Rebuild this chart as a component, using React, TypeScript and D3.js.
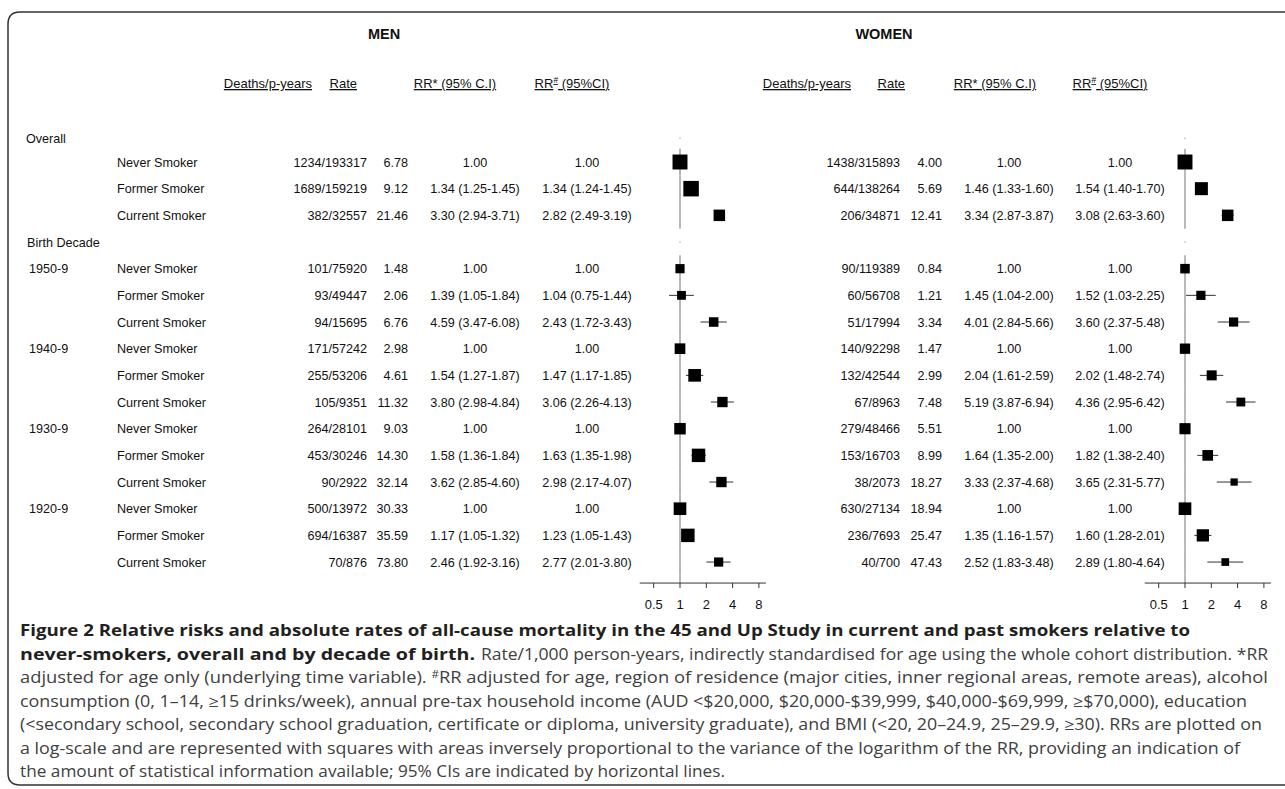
import React from 'react';
import * as d3 from 'd3';

// ---------------- DATA ----------------
const decades = ['1950-9', '1940-9', '1930-9', '1920-9'];
const statuses = ['Never Smoker', 'Former Smoker', 'Current Smoker'];
const tickValues = [0.5, 1, 2, 4, 8];

// Men (rows: Overall N/F/C, then 1950-9 N/F/C, 1940-9, 1930-9, 1920-9)
const menDeaths = [1234, 1689, 382, 101, 93, 94, 171, 255, 105, 264, 453, 90, 500, 694, 70];
const menPYears = [193317, 159219, 32557, 75920, 49447, 15695, 57242, 53206, 9351, 28101, 30246, 2922, 13972, 16387, 876];
const menRate = [6.78, 9.12, 21.46, 1.48, 2.06, 6.76, 2.98, 4.61, 11.32, 9.03, 14.3, 32.14, 30.33, 35.59, 73.8];
const menRRa = [1, 1.34, 3.3, 1, 1.39, 4.59, 1, 1.54, 3.8, 1, 1.58, 3.62, 1, 1.17, 2.46];
const menRRaLo = [null, 1.25, 2.94, null, 1.05, 3.47, null, 1.27, 2.98, null, 1.36, 2.85, null, 1.05, 1.92];
const menRRaHi = [null, 1.45, 3.71, null, 1.84, 6.08, null, 1.87, 4.84, null, 1.84, 4.6, null, 1.32, 3.16];
const menRRb = [1, 1.34, 2.82, 1, 1.04, 2.43, 1, 1.47, 3.06, 1, 1.63, 2.98, 1, 1.23, 2.77];
const menRRbLo = [null, 1.24, 2.49, null, 0.75, 1.72, null, 1.17, 2.26, null, 1.35, 2.17, null, 1.05, 2.01];
const menRRbHi = [null, 1.45, 3.19, null, 1.44, 3.43, null, 1.85, 4.13, null, 1.98, 4.07, null, 1.43, 3.8];
// relative statistical information (square area)
const menInfo = [169, 182, 100, 64, 59, 69, 86, 121, 81, 100, 137, 81, 121, 137, 64];

// Women
const womenDeaths = [1438, 644, 206, 90, 60, 51, 140, 132, 67, 279, 153, 38, 630, 236, 40];
const womenPYears = [315893, 138264, 34871, 119389, 56708, 17994, 92298, 42544, 8963, 48466, 16703, 2073, 27134, 7693, 700];
const womenRate = [4.0, 5.69, 12.41, 0.84, 1.21, 3.34, 1.47, 2.99, 7.48, 5.51, 8.99, 18.27, 18.94, 25.47, 47.43];
const womenRRa = [1, 1.46, 3.34, 1, 1.45, 4.01, 1, 2.04, 5.19, 1, 1.64, 3.33, 1, 1.35, 2.52];
const womenRRaLo = [null, 1.33, 2.87, null, 1.04, 2.84, null, 1.61, 3.87, null, 1.35, 2.37, null, 1.16, 1.83];
const womenRRaHi = [null, 1.6, 3.87, null, 2.0, 5.66, null, 2.59, 6.94, null, 2.0, 4.68, null, 1.57, 3.48];
const womenRRb = [1, 1.54, 3.08, 1, 1.52, 3.6, 1, 2.02, 4.36, 1, 1.82, 3.65, 1, 1.6, 2.89];
const womenRRbLo = [null, 1.4, 2.63, null, 1.03, 2.37, null, 1.48, 2.95, null, 1.38, 2.31, null, 1.28, 1.8];
const womenRRbHi = [null, 1.7, 3.6, null, 2.25, 5.48, null, 2.74, 6.42, null, 2.4, 5.77, null, 2.01, 4.64];
const womenInfo = [169, 128, 100, 69, 64, 64, 81, 76, 59, 94, 86, 40, 121, 114, 45];

const captionBold1 = 'Figure 2 Relative risks and absolute rates of all-cause mortality in the 45 and Up Study in current and past smokers relative to';
const captionBold2 = 'never-smokers, overall and by decade of birth.';
const captionRest2 = 'Rate/1,000 person-years, indirectly standardised for age using the whole cohort distribution. *RR';
const captionLines = [
  'adjusted for age only (underlying time variable). #RR adjusted for age, region of residence (major cities, inner regional areas, remote areas), alcohol',
  'consumption (0, 1–14, ≥15 drinks/week), annual pre-tax household income (AUD <$20,000, $20,000-$39,999, $40,000-$69,999, ≥$70,000), education',
  '(<secondary school, secondary school graduation, certificate or diploma, university graduate), and BMI (<20, 20–24.9, 25–29.9, ≥30). RRs are plotted on',
  'a log-scale and are represented with squares with areas inversely proportional to the variance of the logarithm of the RR, providing an indication of',
  'the amount of statistical information available; 95% CIs are indicated by horizontal lines.',
];

// ---------------- LAYOUT ----------------
const W = 1285;
const H = 789;
const FONT = "'Liberation Sans', Arial, Helvetica, sans-serif";
const CAP_FONT = "'Open Sans', 'Noto Sans', sans-serif";
const firstRowY = 162;
const rowH = 26.67;

type Row = { kind: 'head'; label: string; y: number } | { kind: 'data'; idx: number; decade: string; status: string; y: number };

const rows: Row[] = [];
(() => {
  let k = -1;
  rows.push({ kind: 'head', label: 'Overall', y: firstRowY + k * rowH + 3 });
  k++;
  statuses.forEach((s, i) => { rows.push({ kind: 'data', idx: i, decade: '', status: s, y: firstRowY + k * rowH }); k++; });
  rows.push({ kind: 'head', label: 'Birth Decade', y: firstRowY + k * rowH });
  k++;
  decades.forEach((d, di) => {
    statuses.forEach((s, si) => {
      rows.push({ kind: 'data', idx: 3 + di * 3 + si, decade: si === 0 ? d : '', status: s, y: firstRowY + k * rowH });
      k++;
    });
  });
})();
const lastRowY = rows[rows.length - 1].y;
const axisY = lastRowY + 21;

const fmt2 = (v: number) => v.toFixed(2);
const rrText = (e: number, lo: number | null, hi: number | null) =>
  lo == null || hi == null ? fmt2(e) : `${fmt2(e)} (${fmt2(lo)}-${fmt2(hi)})`;

type PanelProps = {
  title: string;
  titleX: number;
  deaths: number[]; pyears: number[]; rate: number[];
  rra: number[]; rraLo: (number | null)[]; rraHi: (number | null)[];
  rrb: number[]; rrbLo: (number | null)[]; rrbHi: (number | null)[];
  info: number[];
  cols: { deathsR: number; rateR: number; rraC: number; rrbC: number; hDeathsR: number; hRateR: number; hRraC: number; hRrbC: number };
  plotX1: number;
  refStroke: string; refWidth: number;
  labels: boolean;
};

const Panel: React.FC<PanelProps> = (p) => {
  const step = 26.3;
  const x = d3.scaleLog().base(2).domain([0.5, 8]).range([p.plotX1 - step, p.plotX1 + 3 * step]);
  const size = d3.scaleSqrt().domain([0, 182]).range([0, 15.5]);
  const axisL = x(0.5) - 14;
  const axisR = x(8) + 7;
  const txt = { fontFamily: FONT, fontSize: 12.6, fill: '#111' } as const;
  const head = { fontFamily: FONT, fontSize: 13, fill: '#111' } as const;
  const dataRows = rows.filter((r) => r.kind === 'data') as Extract<Row, { kind: 'data' }>[];
  const headRows = rows.filter((r) => r.kind === 'head') as Extract<Row, { kind: 'head' }>[];
  const headY = 88;
  return (
    <g>
      <text x={p.titleX} y={39} textAnchor="middle" style={{ ...txt, fontSize: 14.5, fontWeight: 'bold' }}>{p.title}</text>
      <g style={head}>
        <text x={p.cols.hDeathsR} y={headY} textAnchor="end" textDecoration="underline">Deaths/p-years</text>
        <text x={p.cols.hRateR} y={headY} textAnchor="end" textDecoration="underline">Rate</text>
        <text x={p.cols.hRraC} y={headY} textAnchor="middle" textDecoration="underline">RR* (95% C.I)</text>
        <text x={p.cols.hRrbC} y={headY} textAnchor="middle" textDecoration="underline">
          RR<tspan fontSize={8.5} dy={-5}>#</tspan><tspan dy={5}> (95%CI)</tspan>
        </text>
      </g>
      {p.labels && headRows.map((r) => (
        <text key={r.label} x={r.label === 'Overall' ? 26 : 27} y={r.y + 4.5} style={txt}>{r.label}</text>
      ))}
      {dataRows.map((r) => {
        const i = r.idx;
        return (
          <g key={i} style={txt}>
            {p.labels && r.decade && <text x={29} y={r.y + 4.5}>{r.decade}</text>}
            {p.labels && <text x={117} y={r.y + 4.5}>{r.status}</text>}
            <text x={p.cols.deathsR} y={r.y + 4.5} textAnchor="end">{`${p.deaths[i]}/${p.pyears[i]}`}</text>
            <text x={p.cols.rateR} y={r.y + 4.5} textAnchor="end">{fmt2(p.rate[i])}</text>
            <text x={p.cols.rraC} y={r.y + 4.5} textAnchor="middle">{rrText(p.rra[i], p.rraLo[i], p.rraHi[i])}</text>
            <text x={p.cols.rrbC} y={r.y + 4.5} textAnchor="middle">{rrText(p.rrb[i], p.rrbLo[i], p.rrbHi[i])}</text>
          </g>
        );
      })}
      {/* reference line at RR = 1, drawn per data row */}
      {dataRows.map((r) => (
        <line key={'ref' + r.idx} x1={x(1)} x2={x(1)} y1={r.y - rowH / 2} y2={r.y + rowH / 2} stroke={p.refStroke} strokeWidth={p.refWidth} />
      ))}
      <line x1={x(1)} x2={x(1)} y1={lastRowY + rowH / 2} y2={axisY} stroke={p.refStroke} strokeWidth={p.refWidth} />
      {headRows.map((r) => (
        <line key={'dot' + r.label} x1={x(1)} x2={x(1)} y1={r.y - 0.7} y2={r.y + 0.7} stroke={p.refStroke} strokeWidth={p.refWidth * 0.7} />
      ))}
      {/* CIs and squares */}
      {dataRows.map((r) => {
        const i = r.idx;
        const s = size(p.info[i]);
        const lo = p.rrbLo[i];
        const hi = p.rrbHi[i];
        return (
          <g key={'m' + i}>
            {lo != null && hi != null && (
              <line x1={x(lo)} x2={x(hi)} y1={r.y} y2={r.y} stroke="#333" strokeWidth={1} />
            )}
            <rect x={x(p.rrb[i]) - s / 2} y={r.y - s / 2} width={s} height={s} fill="#000" />
          </g>
        );
      })}
      {/* axis */}
      <g>
        <line x1={axisL} x2={axisR} y1={axisY} y2={axisY} stroke="#333" strokeWidth={1} />
        {tickValues.map((t) => (
          <g key={t}>
            <line x1={x(t)} x2={x(t)} y1={axisY} y2={axisY + 5} stroke="#333" strokeWidth={1} />
            <text x={x(t)} y={axisY + 26} textAnchor="middle" style={{ ...txt, fontSize: 13 }}>{String(t)}</text>
          </g>
        ))}
      </g>
    </g>
  );
};

export default function App() {
  const capY0 = 636;
  const capStep = 23.5;
  const capSize = 15.8;
  const lineEnds = [1268, 1247, 1262, 1240, 725];
  const capX = 20;
  return (
    <svg width={W} height={H} style={{ position: 'absolute', left: 0, top: 0, background: '#fff' }}>
      <rect x={0} y={0} width={W} height={H} fill="#fff" />
      {/* frame with rounded left corners */}
      <path
        d={`M ${W + 5} 12 L 20 12 Q 8 12 8 24 L 8 773 Q 8 785 20 785 L ${W + 5} 785`}
        fill="none" stroke="#333" strokeWidth={1.5}
      />
      <Panel
        title="MEN" titleX={384}
        deaths={menDeaths} pyears={menPYears} rate={menRate}
        rra={menRRa} rraLo={menRRaLo} rraHi={menRRaHi}
        rrb={menRRb} rrbLo={menRRbLo} rrbHi={menRRbHi}
        info={menInfo}
        cols={{ deathsR: 367, rateR: 408, rraC: 475, rrbC: 587, hDeathsR: 312, hRateR: 357, hRraC: 455, hRrbC: 572 }}
        plotX1={680} refStroke="#b8b8b8" refWidth={2} labels={true}
      />
      <Panel
        title="WOMEN" titleX={884}
        deaths={womenDeaths} pyears={womenPYears} rate={womenRate}
        rra={womenRRa} rraLo={womenRRaLo} rraHi={womenRRaHi}
        rrb={womenRRb} rrbLo={womenRRbLo} rrbHi={womenRRbHi}
        info={womenInfo}
        cols={{ deathsR: 900, rateR: 942, rraC: 1009, rrbC: 1120, hDeathsR: 851, hRateR: 905, hRraC: 995, hRrbC: 1110 }}
        plotX1={1185} refStroke="#8c8c8c" refWidth={1.2} labels={false}
      />
      {/* caption */}
      <g style={{ fontFamily: CAP_FONT, fontSize: capSize }}>
        <text x={capX} y={capY0} textLength={1190 - capX} lengthAdjust="spacingAndGlyphs" fill="#231f20" fontWeight="bold">{captionBold1}</text>
        <text x={capX} y={capY0 + capStep} textLength={475 - capX} lengthAdjust="spacingAndGlyphs" fill="#231f20" fontWeight="bold">{captionBold2}</text>
        <text x={481} y={capY0 + capStep} textLength={1268 - 481} lengthAdjust="spacingAndGlyphs" fill="#404040">{captionRest2}</text>
        {captionLines.map((l, i) => (
          <text key={i} x={capX} y={capY0 + capStep * (i + 2)} textLength={lineEnds[i] - capX} lengthAdjust="spacingAndGlyphs" fill="#404040">
            {i === 0 ? (
              <>
                {l.split('#')[0]}
                <tspan fontSize={10} dy={-5}>#</tspan>
                <tspan dy={5}>{l.split('#')[1]}</tspan>
              </>
            ) : l}
          </text>
        ))}
      </g>
    </svg>
  );
}
